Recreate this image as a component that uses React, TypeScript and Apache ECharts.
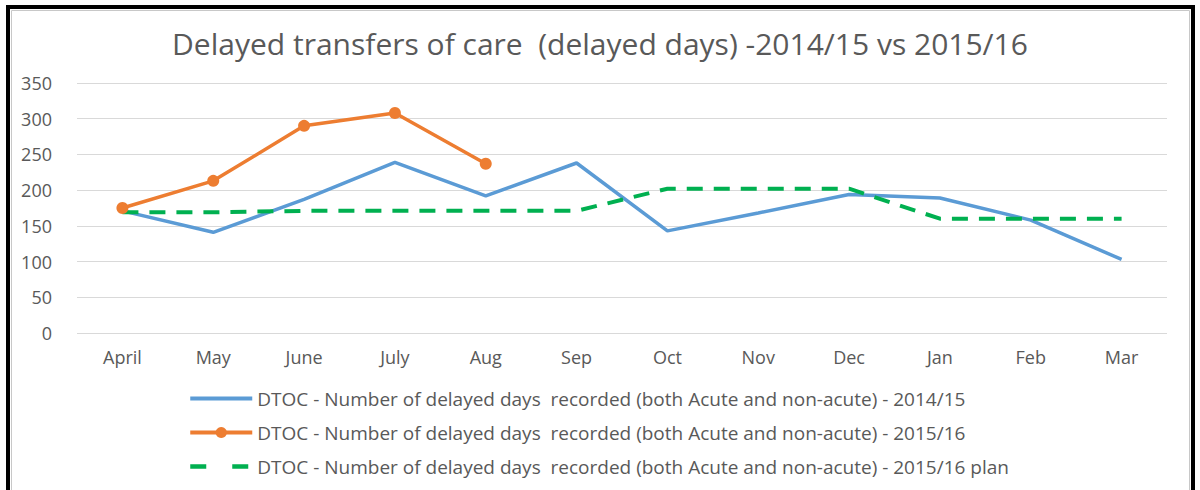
import React, { useEffect, useRef } from "react";
import * as echarts from "echarts";

const months = ["April", "May", "June", "July", "Aug", "Sep", "Oct", "Nov", "Dec", "Jan", "Feb", "Mar"];
const series1415 = [171, 141, 187, 239, 192, 238, 143, 168, 194, 189, 158, 103];
const series1516 = [175, 213, 290, 308, 237];
const series1516Plan = [169, 169, 171, 171, 171, 171, 202, 202, 202, 160, 160, 160];
const legendNames = [
  "DTOC - Number of delayed days  recorded (both Acute and non-acute) - 2014/15",
  "DTOC - Number of delayed days  recorded (both Acute and non-acute) - 2015/16",
  "DTOC - Number of delayed days  recorded (both Acute and non-acute) - 2015/16 plan",
];
const titleText = "Delayed transfers of care  (delayed days) -2014/15 vs 2015/16";

export default function App() {
  const ref = useRef<HTMLDivElement>(null);
  useEffect(() => {
    if (!ref.current) return;
    const chart = echarts.init(ref.current, undefined, { renderer: "svg" });
    const font = "'Open Sans', sans-serif";
    chart.setOption({
      animation: false,
      backgroundColor: "#ffffff",
      textStyle: { fontFamily: font },
      title: {
        text: titleText,
        left: "center",
        top: 23,
        textStyle: { fontFamily: font, fontSize: 30, fontWeight: "normal", color: "#595959" },
      },
      legend: {
        orient: "vertical",
        left: 183,
        top: 384,
        itemWidth: 62,
        itemHeight: 14,
        itemGap: 15,
        textStyle: { fontFamily: font, fontSize: 19, color: "#595959" },
        data: [
          { name: legendNames[0], itemStyle: { opacity: 0 }, lineStyle: { width: 4 } },
          { name: legendNames[1], lineStyle: { width: 4 } },
          { name: legendNames[2], itemStyle: { opacity: 0 }, lineStyle: { width: 4.5, type: [16, 26] } },
        ],
      },
      grid: { left: 77, right: 33, top: 83, bottom: 157 },
      xAxis: {
        type: "category",
        data: months,
        boundaryGap: true,
        axisLine: { show: false },
        axisTick: { show: false },
        axisLabel: { color: "#595959", fontSize: 18, margin: 15, fontFamily: font },
      },
      yAxis: {
        type: "value",
        min: 0,
        max: 350,
        interval: 50,
        axisLine: { show: false },
        axisTick: { show: false },
        axisLabel: { color: "#595959", fontSize: 18, margin: 25, fontFamily: font },
        splitLine: { lineStyle: { color: "#d9d9d9", width: 1 } },
      },
      series: [
        {
          name: legendNames[0],
          type: "line",
          data: series1415,
          symbol: "none",
          lineStyle: { color: "#5B9BD5", width: 3.5 },
          itemStyle: { color: "#5B9BD5" },
        },
        {
          name: legendNames[1],
          type: "line",
          data: series1516,
          symbol: "circle",
          symbolSize: 12,
          lineStyle: { color: "#ED7D31", width: 3.5 },
          itemStyle: { color: "#ED7D31" },
        },
        {
          name: legendNames[2],
          type: "line",
          data: series1516Plan,
          symbol: "none",
          lineStyle: { color: "#00B050", width: 4, type: [16, 11] },
          itemStyle: { color: "#00B050" },
        },
      ],
      graphic: [
        {
          type: "rect",
          shape: { x: 8, y: 7, width: 1185, height: 520 },
          style: { fill: "none", stroke: "#000000", lineWidth: 4 },
          silent: true,
        },
        {
          type: "rect",
          shape: { x: 11.5, y: 10.5, width: 1178, height: 520 },
          style: { fill: "none", stroke: "#c8c8c8", lineWidth: 1 },
          silent: true,
        },
      ],
    });
    return () => chart.dispose();
  }, []);
  return (
    <div
      ref={ref}
      style={{ position: "absolute", left: 0, top: 0, width: 1200, height: 490 }}
    />
  );
}
